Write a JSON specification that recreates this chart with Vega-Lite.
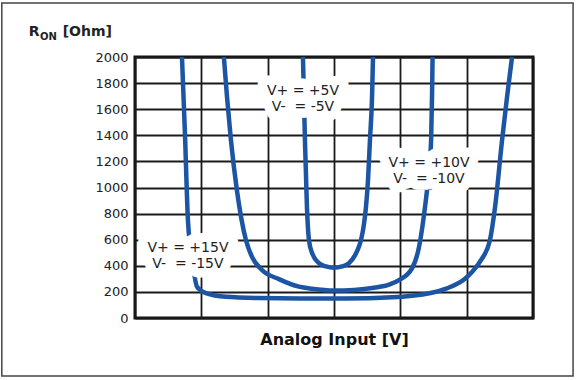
{
  "$schema": "https://vega.github.io/schema/vega-lite/v6.json",
  "width": 398,
  "height": 261,
  "autosize": {"type": "none"},
  "padding": {"left": 135, "top": 57, "right": 47, "bottom": 62},
  "background": "white",
  "config": {
    "view": {"stroke": "#111", "strokeWidth": 3},
    "font": "DejaVu Sans",
    "axisX": {
      "labels": false, "ticks": false, "domain": false,
      "grid": true, "gridColor": "#1a1a1a", "gridWidth": 1.8, "gridOpacity": 1,
      "titleFont": "DejaVu Sans", "titleFontSize": 16, "titleFontWeight": "bold",
      "titleColor": "#111", "titlePadding": 13
    },
    "axisY": {
      "labelOverlap": false,
      "ticks": false, "domain": false,
      "grid": true, "gridColor": "#1a1a1a", "gridWidth": 1.8, "gridOpacity": 1,
      "labelFont": "DejaVu Sans", "labelFontSize": 13, "labelColor": "#222",
      "labelPadding": 7
    }
  },
  "datasets": {
    "curves": [
      {"series": "5V", "x": -2.34, "r": 2000},
      {"series": "5V", "x": -2.19, "r": 1364},
      {"series": "5V", "x": -2.04, "r": 850},
      {"series": "5V", "x": -1.89, "r": 600},
      {"series": "5V", "x": -1.66, "r": 500},
      {"series": "5V", "x": -1.13, "r": 420},
      {"series": "5V", "x": -0.6, "r": 395},
      {"series": "5V", "x": 0, "r": 385},
      {"series": "5V", "x": 0.6, "r": 395},
      {"series": "5V", "x": 1.13, "r": 420},
      {"series": "5V", "x": 1.58, "r": 480},
      {"series": "5V", "x": 1.89, "r": 550},
      {"series": "5V", "x": 2.04, "r": 600},
      {"series": "5V", "x": 2.26, "r": 720},
      {"series": "5V", "x": 2.41, "r": 850},
      {"series": "5V", "x": 2.56, "r": 1050},
      {"series": "5V", "x": 2.71, "r": 1364},
      {"series": "5V", "x": 2.87, "r": 1700},
      {"series": "5V", "x": 2.94, "r": 2000},
      {"series": "10V", "x": -8.3, "r": 2000},
      {"series": "10V", "x": -8.07, "r": 1700},
      {"series": "10V", "x": -7.77, "r": 1364},
      {"series": "10V", "x": -7.32, "r": 980},
      {"series": "10V", "x": -6.64, "r": 598},
      {"series": "10V", "x": -6.18, "r": 468},
      {"series": "10V", "x": -5.43, "r": 368},
      {"series": "10V", "x": -4.15, "r": 298},
      {"series": "10V", "x": -2.64, "r": 240},
      {"series": "10V", "x": -1.66, "r": 224},
      {"series": "10V", "x": 0, "r": 210},
      {"series": "10V", "x": 1.51, "r": 215},
      {"series": "10V", "x": 3.02, "r": 232},
      {"series": "10V", "x": 4.15, "r": 255},
      {"series": "10V", "x": 4.9, "r": 290},
      {"series": "10V", "x": 5.88, "r": 380},
      {"series": "10V", "x": 6.41, "r": 545},
      {"series": "10V", "x": 6.86, "r": 850},
      {"series": "10V", "x": 7.09, "r": 1057},
      {"series": "10V", "x": 7.32, "r": 1364},
      {"series": "10V", "x": 7.39, "r": 1700},
      {"series": "10V", "x": 7.43, "r": 2000},
      {"series": "15V", "x": -11.46, "r": 2000},
      {"series": "15V", "x": -11.23, "r": 1400},
      {"series": "15V", "x": -11.01, "r": 750},
      {"series": "15V", "x": -10.63, "r": 405},
      {"series": "15V", "x": -10.33, "r": 240},
      {"series": "15V", "x": -9.65, "r": 190},
      {"series": "15V", "x": -8.14, "r": 162},
      {"series": "15V", "x": -5.66, "r": 153},
      {"series": "15V", "x": -2.64, "r": 150},
      {"series": "15V", "x": 0, "r": 150},
      {"series": "15V", "x": 2.64, "r": 152},
      {"series": "15V", "x": 5.88, "r": 170},
      {"series": "15V", "x": 8.45, "r": 225},
      {"series": "15V", "x": 9.8, "r": 295},
      {"series": "15V", "x": 10.33, "r": 345},
      {"series": "15V", "x": 11.09, "r": 445},
      {"series": "15V", "x": 11.76, "r": 600},
      {"series": "15V", "x": 12.14, "r": 850},
      {"series": "15V", "x": 12.67, "r": 1364},
      {"series": "15V", "x": 13.05, "r": 1700},
      {"series": "15V", "x": 13.42, "r": 2000}
    ],
    "labels": [
      {"label": "V+ = +5V\nV-\u00a0\u00a0= -5V", "x": -2.34, "r": 1743},
      {"label": "V+ = +10V\nV-\u00a0\u00a0= -10V", "x": 7.16, "r": 1184},
      {"label": "V+ = +15V\nV-\u00a0\u00a0= -15V", "x": -11.01, "r": 533}
    ],
    "titleBig": [
      {"label": "R", "x": -23.0, "r": 2161},
      {"label": "[Ohm]", "x": -20.45, "r": 2161}
    ],
    "titleSub": [
      {"label": "ON", "x": -22.17, "r": 2134}
    ],
    "frame": [
      {"x1": -25.04, "x2": 18.02, "r1": 2414, "r2": -444}
    ]
  },
  "layer": [
    {
      "data": {"name": "curves"},
      "mark": {"type": "line", "interpolate": "monotone", "color": "#1d55a5", "strokeWidth": 4.5, "clip": true},
      "encoding": {
        "x": {
          "field": "x", "type": "quantitative",
          "scale": {"domain": [-15, 15], "nice": false, "zero": false},
          "axis": {"values": [-15, -10, -5, 0, 5, 10, 15], "title": "Analog Input [V]"}
        },
        "y": {
          "field": "r", "type": "quantitative",
          "scale": {"domain": [0, 2000], "nice": false},
          "axis": {"values": [0, 200, 400, 600, 800, 1000, 1200, 1400, 1600, 1800, 2000], "format": "d", "title": null}
        },
        "detail": {"field": "series"}
      }
    },
    {
      "data": {"name": "labels"},
      "mark": {"type": "text", "lineBreak": "\n", "align": "center", "baseline": "middle",
               "font": "DejaVu Sans", "fontSize": 14, "lineHeight": 16,
               "stroke": "white", "strokeWidth": 19, "strokeJoin": "round", "fill": "white"},
      "encoding": {
        "x": {"field": "x", "type": "quantitative", "axis": {"values": [-15, -10, -5, 0, 5, 10, 15], "title": "Analog Input [V]"}},
        "y": {"field": "r", "type": "quantitative", "axis": {"values": [0, 200, 400, 600, 800, 1000, 1200, 1400, 1600, 1800, 2000], "format": "d", "title": null}},
        "text": {"field": "label"}
      }
    },
    {
      "data": {"name": "labels"},
      "mark": {"type": "text", "lineBreak": "\n", "align": "center", "baseline": "middle",
               "font": "DejaVu Sans", "fontSize": 14, "lineHeight": 16, "color": "#222"},
      "encoding": {
        "x": {"field": "x", "type": "quantitative", "axis": {"values": [-15, -10, -5, 0, 5, 10, 15], "title": "Analog Input [V]"}},
        "y": {"field": "r", "type": "quantitative", "axis": {"values": [0, 200, 400, 600, 800, 1000, 1200, 1400, 1600, 1800, 2000], "format": "d", "title": null}},
        "text": {"field": "label"}
      }
    },
    {
      "data": {"name": "titleBig"},
      "mark": {"type": "text", "align": "left", "baseline": "alphabetic",
               "font": "DejaVu Sans", "fontSize": 14, "fontWeight": "bold", "color": "#222"},
      "encoding": {
        "x": {"field": "x", "type": "quantitative", "axis": {"values": [-15, -10, -5, 0, 5, 10, 15], "title": "Analog Input [V]"}},
        "y": {"field": "r", "type": "quantitative", "axis": {"values": [0, 200, 400, 600, 800, 1000, 1200, 1400, 1600, 1800, 2000], "format": "d", "title": null}},
        "text": {"field": "label"}
      }
    },
    {
      "data": {"name": "titleSub"},
      "mark": {"type": "text", "align": "left", "baseline": "alphabetic",
               "font": "DejaVu Sans", "fontSize": 10, "fontWeight": "bold", "color": "#222"},
      "encoding": {
        "x": {"field": "x", "type": "quantitative", "axis": {"values": [-15, -10, -5, 0, 5, 10, 15], "title": "Analog Input [V]"}},
        "y": {"field": "r", "type": "quantitative", "axis": {"values": [0, 200, 400, 600, 800, 1000, 1200, 1400, 1600, 1800, 2000], "format": "d", "title": null}},
        "text": {"field": "label"}
      }
    },
    {
      "data": {"name": "frame"},
      "mark": {"type": "rect", "fillOpacity": 0, "stroke": "#444", "strokeWidth": 1.5},
      "encoding": {
        "x": {"field": "x1", "type": "quantitative", "axis": {"values": [-15, -10, -5, 0, 5, 10, 15], "title": "Analog Input [V]"}},
        "x2": {"field": "x2"},
        "y": {"field": "r1", "type": "quantitative", "axis": {"values": [0, 200, 400, 600, 800, 1000, 1200, 1400, 1600, 1800, 2000], "format": "d", "title": null}},
        "y2": {"field": "r2"}
      }
    }
  ]
}
